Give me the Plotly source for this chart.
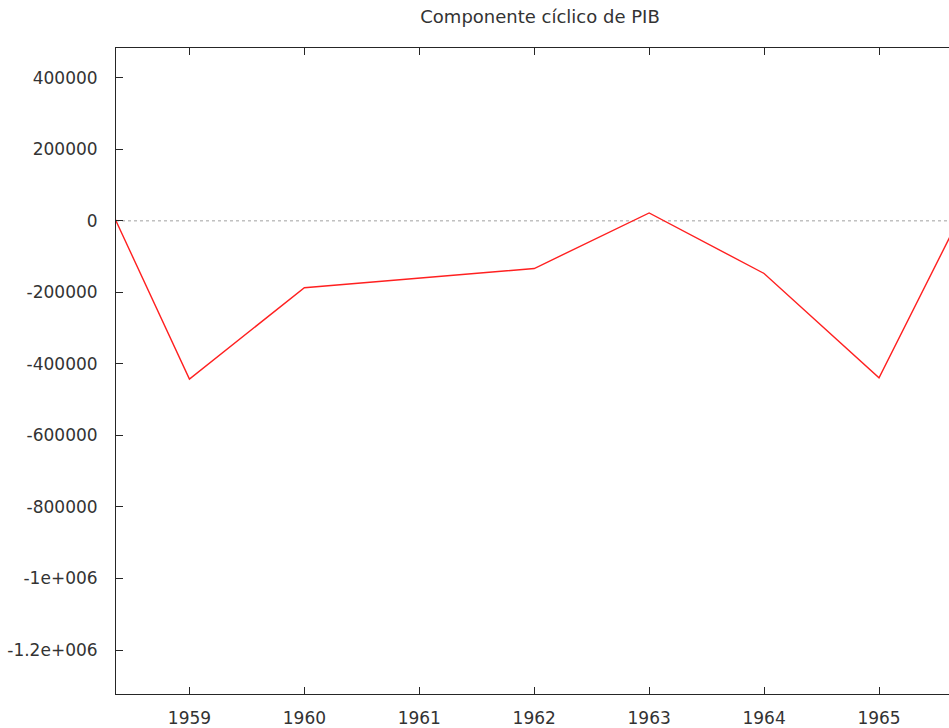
import plotly.graph_objects as go

years = [1958, 1959, 1960, 1961, 1962, 1963, 1964, 1965, 1966]
ciclo = [250000, -442500, -186900, -160500, -133300, 22200, -147200, -438900, 200000]

y_tick_vals = [400000, 200000, 0, -200000, -400000, -600000, -800000, -1000000, -1200000]
y_tick_text = ["400000", "200000", "0", "-200000", "-400000", "-600000", "-800000", "-1e+006", "-1.2e+006"]
x_tick_vals = [1959, 1960, 1961, 1962, 1963, 1964, 1965]

axis_color = "#262626"
font = dict(family="DejaVu Sans, Verdana, sans-serif", size=17, color="#333333")

fig = go.Figure()
fig.add_trace(go.Scatter(x=years, y=ciclo, mode="lines",
                         line=dict(color="#ff2020", width=1.4),
                         showlegend=False, hoverinfo="x+y"))

fig.add_shape(type="line", xref="paper", x0=0, x1=1, yref="y", y0=0, y1=0,
              line=dict(color="#a0a0a0", width=1, dash="dot"), layer="below")

fig.update_layout(
    width=949, height=728,
    margin=dict(l=116, r=0, t=48, b=30),
    paper_bgcolor="white", plot_bgcolor="white",
    font=font,
    title=dict(text="Componente cíclico de PIB", x=540 / 949, xanchor="center",
               y=1 - 17 / 728, yanchor="middle", yref="container",
               font=dict(family="DejaVu Sans, Verdana, sans-serif", size=18, color="#333333")),
    xaxis=dict(range=[1958.361, 1965.609], tickvals=x_tick_vals, ticktext=[str(v) for v in x_tick_vals],
               ticks="inside", ticklen=7, tickcolor=axis_color, tickwidth=1,
               showline=True, linecolor=axis_color, linewidth=1, mirror="ticks",
               showgrid=False, zeroline=False, ticklabelstandoff=9),
    yaxis=dict(range=[-1323000, 483333], tickvals=y_tick_vals, ticktext=y_tick_text,
               ticks="inside", ticklen=7, tickcolor=axis_color, tickwidth=1,
               showline=True, linecolor=axis_color, linewidth=1, mirror=False,
               showgrid=False, zeroline=False, ticklabelstandoff=14),
)

fig.write_html("out.html", config={"displayModeBar": False},
               post_script="document.body.style.margin='0';document.body.style.overflow='hidden';")
